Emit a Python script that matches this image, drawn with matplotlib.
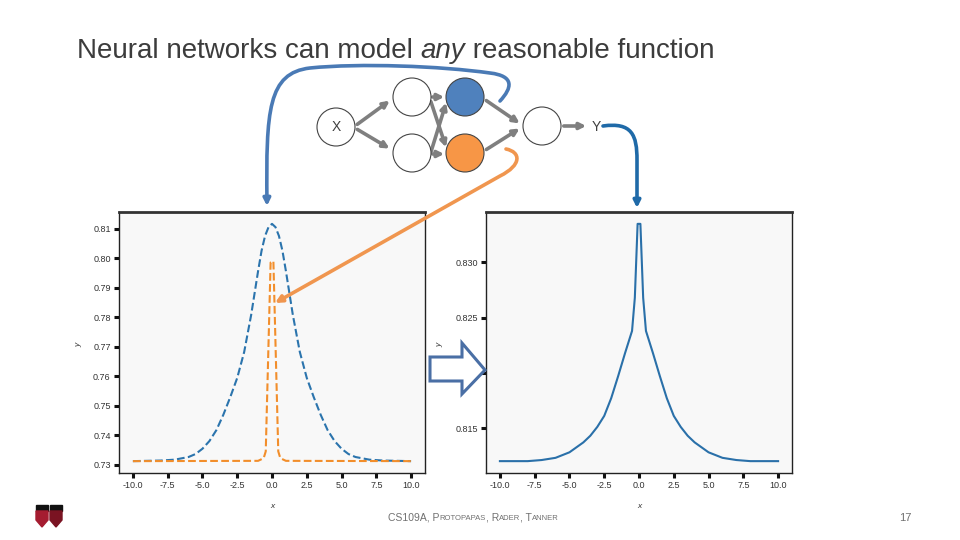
import numpy as np
import matplotlib
matplotlib.use("Agg")
import matplotlib.pyplot as plt
from matplotlib.patches import Circle, FancyArrowPatch, Polygon, Rectangle
from matplotlib.path import Path

plt.rcParams['font.family'] = ['Liberation Sans', 'DejaVu Sans']
plt.rcParams['axes.unicode_minus'] = False

# left panel: two hidden-unit outputs
blue_x = [-10, -8, -7, -6, -5.5, -5, -4.5, -4, -3.5, -3, -2.5, -2, -1.5, -1, -0.75, -0.5,
          -0.25, 0, 0.25, 0.5, 0.75, 1, 1.5, 2, 2.5, 3, 3.5, 4, 4.5, 5, 5.5, 6, 7, 8, 10]
blue_y = [0.7312, 0.7314, 0.7317, 0.7326, 0.7336, 0.7354, 0.7380, 0.7417, 0.7469, 0.7529,
          0.7594, 0.7682, 0.7807, 0.7956, 0.8025, 0.8075, 0.8105, 0.8116,
          0.8105, 0.8075, 0.8025, 0.7956, 0.7807, 0.7682, 0.7594, 0.7529, 0.7469, 0.7417,
          0.7380, 0.7354, 0.7336, 0.7326, 0.7317, 0.7314, 0.7312]
orange_x = [-10, -1, -0.6, -0.45, -0.1, 0.1, 0.45, 0.6, 1, 10]
orange_y = [0.7312, 0.7313, 0.7322, 0.7345, 0.7985, 0.7990, 0.7345, 0.7322, 0.7313, 0.7312]

# right panel: network output
out_x = [-10, -8, -7, -6, -5, -4, -3.5, -3, -2.5, -2, -1.5, -1, -0.5, -0.3, -0.1,
         0.1, 0.3, 0.5, 1, 1.5, 2, 2.5, 3, 3.5, 4, 5, 6, 7, 8, 10]
out_y = [0.8120, 0.8120, 0.8121, 0.8123, 0.8128, 0.8137, 0.8143, 0.8151, 0.8161, 0.8177,
         0.8197, 0.8218, 0.8238, 0.8268, 0.8335,
         0.8335, 0.8268, 0.8238, 0.8218, 0.8197, 0.8177, 0.8161, 0.8151, 0.8143, 0.8137,
         0.8128, 0.8123, 0.8121, 0.8120, 0.8120]

x_ticks = [-10, -7.5, -5, -2.5, 0, 2.5, 5, 7.5, 10]
left_yticks = [0.73, 0.74, 0.75, 0.76, 0.77, 0.78, 0.79, 0.80, 0.81]
right_yticks = [0.815, 0.820, 0.825, 0.830]

fig = plt.figure(figsize=(9.6, 5.4), dpi=100)
fig.patch.set_facecolor('white')


def style_axes(ax, yticks, fmt):
    ax.set_facecolor('#f8f8f8')
    for s in ax.spines.values():
        s.set_color('#222222')
        s.set_linewidth(1.0)
    ax.spines['top'].set_linewidth(2.0)
    ax.spines['top'].set_color('#333333')
    ax.set_xticks(x_ticks)
    ax.set_xticklabels(['%.1f' % t for t in x_ticks])
    ax.set_yticks(yticks)
    ax.set_yticklabels([fmt % t for t in yticks])
    ax.tick_params(direction='out', length=3.5, width=2.2, color='#111111',
                   labelsize=6.5, labelcolor='#333333', pad=2.5)
    ax.set_xlabel('x', fontsize=6, style='italic', color='#333333')
    ax.set_ylabel('y', fontsize=6, style='italic', color='#333333')
    ax.xaxis.set_label_coords(0.5, -0.115)


ax1 = fig.add_axes([119 / 960, 1 - 473 / 540, 306 / 960, 261 / 540])
ax1.plot(blue_x, blue_y, '--', color='#2b74ad', lw=1.5)
ax1.plot(orange_x, orange_y, '--', color='#f28e2b', lw=1.5)
style_axes(ax1, left_yticks, '%.2f')
ax1.yaxis.set_label_coords(-0.121, 0.49)

ax2 = fig.add_axes([486 / 960, 1 - 473 / 540, 306 / 960, 261 / 540])
ax2.plot(out_x, out_y, '-', color='#2a70a9', lw=1.5)
style_axes(ax2, right_yticks, '%.3f')
ax2.yaxis.set_label_coords(-0.14, 0.49)

# overlay in pixel coordinates for the slide decorations
ov = fig.add_axes([0, 0, 1, 1], zorder=10)
ov.set_xlim(0, 960)
ov.set_ylim(540, 0)
ov.axis('off')
ov.patch.set_visible(False)

renderer = fig.canvas.get_renderer()


def draw_runs(x, y, runs, **kw):
    for txt, opts in runs:
        t = ov.text(x, y, txt, va='baseline', ha='left', **kw, **opts)
        x += t.get_window_extent(renderer).width


draw_runs(77, 58, [('Neural networks can model ', {}),
                   ('any', {'style': 'italic'}),
                   (' reasonable function', {})],
          fontsize=20, color='#3c3c3c')

# network
nodes = {'x': (336, 127), 'h1': (412, 97), 'h2': (412, 153),
         'b': (465, 97), 'o': (465, 153), 'out': (542, 126)}
fills = {'b': '#4f81bd', 'o': '#f79646'}
for k, (cx, cy) in nodes.items():
    ov.add_patch(Circle((cx, cy), 19, facecolor=fills.get(k, 'white'),
                        edgecolor='#444444', lw=0.8, zorder=3))
ov.text(336, 127, 'X', ha='center', va='center', fontsize=10, color='#404040', zorder=4)
ov.text(596, 127, 'Y', ha='center', va='center', fontsize=10, color='#404040', zorder=4)

links = [((355, 126), (392, 99)), ((355, 128), (392, 150)),
         ((430, 97), (447, 97)), ((430, 99), (447, 150)),
         ((430, 155), (447, 100)), ((430, 154), (447, 154)),
         ((484, 99), (522, 125)), ((484, 151), (522, 127)),
         ((561, 126), (589, 126))]
for a, b in links:
    ov.add_patch(FancyArrowPatch(a, b, arrowstyle='-|>', mutation_scale=9,
                                 color='#7f7f7f', lw=2.6, zorder=2))

C = Path.CURVE4
blue_path = Path([(500, 101), (512, 88), (515, 76), (490, 73),
                  (440, 66), (360, 63), (310, 68),
                  (268, 73), (266, 110), (267, 206)],
                 [Path.MOVETO, C, C, C, C, C, C, C, C, C])
ov.add_patch(FancyArrowPatch(path=blue_path, arrowstyle='-|>', mutation_scale=10,
                             color='#4a7ab5', lw=2.6, zorder=5))

orange_path = Path([(506, 149), (521, 152), (522, 165), (500, 176), (275, 303)],
                   [Path.MOVETO, C, C, C, Path.LINETO])
ov.add_patch(FancyArrowPatch(path=orange_path, arrowstyle='-|>', mutation_scale=10,
                             color='#f0964f', lw=2.6, zorder=5))

right_path = Path([(603, 126), (632, 122), (637, 135), (637, 160), (637, 208)],
                  [Path.MOVETO, C, C, C, Path.LINETO])
ov.add_patch(FancyArrowPatch(path=right_path, arrowstyle='-|>', mutation_scale=10,
                             color='#1f6aa8', lw=2.6, zorder=5))

# block arrow between panels
ov.add_patch(Polygon([(430, 357), (462, 357), (462, 343), (485, 370),
                      (462, 394), (462, 381), (430, 381)],
                     closed=True, facecolor='white', edgecolor='#4a6fa5', lw=2.2, zorder=6))

# footer
fx = 388
runs = [('CS109A, P', {'fontsize': 7.5}), ('ROTOPAPAS', {'fontsize': 5.5}),
        (', R', {'fontsize': 7.5}), ('ADER', {'fontsize': 5.5}),
        (', T', {'fontsize': 7.5}), ('ANNER', {'fontsize': 5.5})]
draw_runs(fx, 520, runs, color='#707070')
ov.text(905, 521, '17', ha='center', va='baseline', fontsize=8, color='#707070')

# logos
for x0, col in [(36, '#a51c30'), (50, '#7a1322')]:
    ov.add_patch(Rectangle((x0, 505), 12, 6, color='#111111', zorder=3))
    ov.add_patch(Polygon([(x0, 511), (x0 + 12, 511), (x0 + 12, 520), (x0 + 6, 527), (x0, 520)],
                         closed=True, color=col, zorder=3))

fig.savefig('out.png', dpi=100, facecolor='white')
